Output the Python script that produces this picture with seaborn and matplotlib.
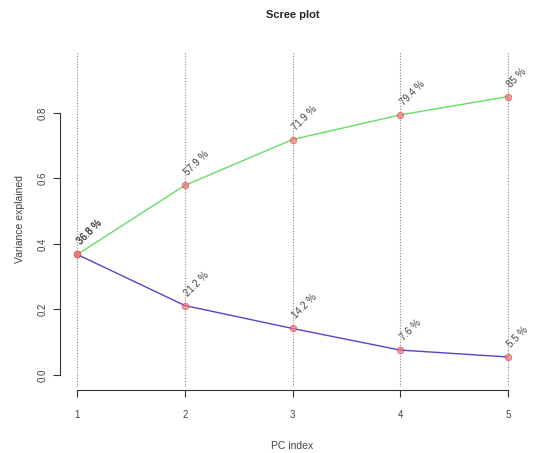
import matplotlib
matplotlib.use("Agg")
import matplotlib.pyplot as plt
import seaborn as sns
import pandas as pd

pc_index = [1, 2, 3, 4, 5]
variance = [0.368, 0.212, 0.142, 0.076, 0.055]
cumulative = [0.368, 0.579, 0.719, 0.794, 0.850]
variance_labels = ["36.8 %", "21.2 %", "14.2 %", "7.6 %", "5.5 %"]
cumulative_labels = ["36.8 %", "57.9 %", "71.9 %", "79.4 %", "85 %"]
y_ticks = [0.0, 0.2, 0.4, 0.6, 0.8]

sns.set_style("white")
plt.rcParams["font.family"] = ["Liberation Sans", "DejaVu Sans"]

df = pd.DataFrame({"pc": pc_index, "var": variance, "cum": cumulative})

fig = plt.figure(figsize=(5.47, 4.53), dpi=100)
ax = fig.add_axes([0.1097, 0.1448, 0.8501, 0.7417])

for x in pc_index:
    ax.axvline(x, color="#888888", linestyle=(0, (1, 1.5)), linewidth=0.8, zorder=1)

sns.lineplot(data=df, x="pc", y="cum", ax=ax, color="#66dd66", linewidth=1.0, zorder=2)
sns.lineplot(data=df, x="pc", y="var", ax=ax, color="#5544cc", linewidth=1.0, zorder=2)
sns.scatterplot(data=df, x="pc", y="cum", ax=ax, color="#ee7777", s=22, alpha=0.7,
                edgecolor="#dd4444", linewidth=0.6, zorder=3)
sns.scatterplot(data=df, x="pc", y="var", ax=ax, color="#ee7777", s=22, alpha=0.7,
                edgecolor="#dd4444", linewidth=0.6, zorder=3)

for x, y, t in zip(pc_index, cumulative, cumulative_labels):
    ax.annotate(t, (x, y), xytext=(1, 8), textcoords="offset points", rotation=45,
                rotation_mode="anchor", ha="left", va="center", fontsize=7,
                color="#444444", annotation_clip=False, zorder=4)
for x, y, t in zip(pc_index, variance, variance_labels):
    ax.annotate(t, (x, y), xytext=(1, 8), textcoords="offset points", rotation=45,
                rotation_mode="anchor", ha="left", va="center", fontsize=7,
                color="#444444", annotation_clip=False, zorder=4)

ax.set_xlim(0.84, 5.16)
ax.set_ylim(-0.038, 0.988)
ax.set_xticks(pc_index)
ax.set_xticklabels([str(i) for i in pc_index])
ax.set_yticks(y_ticks)
ax.set_yticklabels([f"{v:.1f}" for v in y_ticks], rotation=90, va="center")
ax.tick_params(axis="both", labelsize=7, labelcolor="#444444")

for s in ["top", "right"]:
    ax.spines[s].set_visible(False)
ax.spines["bottom"].set_bounds(1, 5)
ax.spines["left"].set_bounds(0, 0.8)
for s in ["bottom", "left"]:
    ax.spines[s].set_color("#333333")
    ax.spines[s].set_linewidth(0.8)
ax.spines["bottom"].set_position(("outward", 2))
ax.tick_params(axis="both", direction="out", length=5, width=0.8, color="#333333",
               bottom=True, left=True)
ax.tick_params(axis="x", pad=9)
ax.tick_params(axis="y", pad=4)

ax.set_xlabel("PC index", fontsize=7.5, color="#444444")
ax.set_ylabel("Variance explained", fontsize=7.5, color="#444444")
ax.xaxis.set_label_coords(0.5, -0.16)
ax.yaxis.set_label_coords(-0.075, 0.5)
fig.text(0.5355, 1 - 15 / 453, "Scree plot", fontsize=8, fontweight="bold",
         ha="center", va="center")

fig.savefig("out.png", dpi=100)
